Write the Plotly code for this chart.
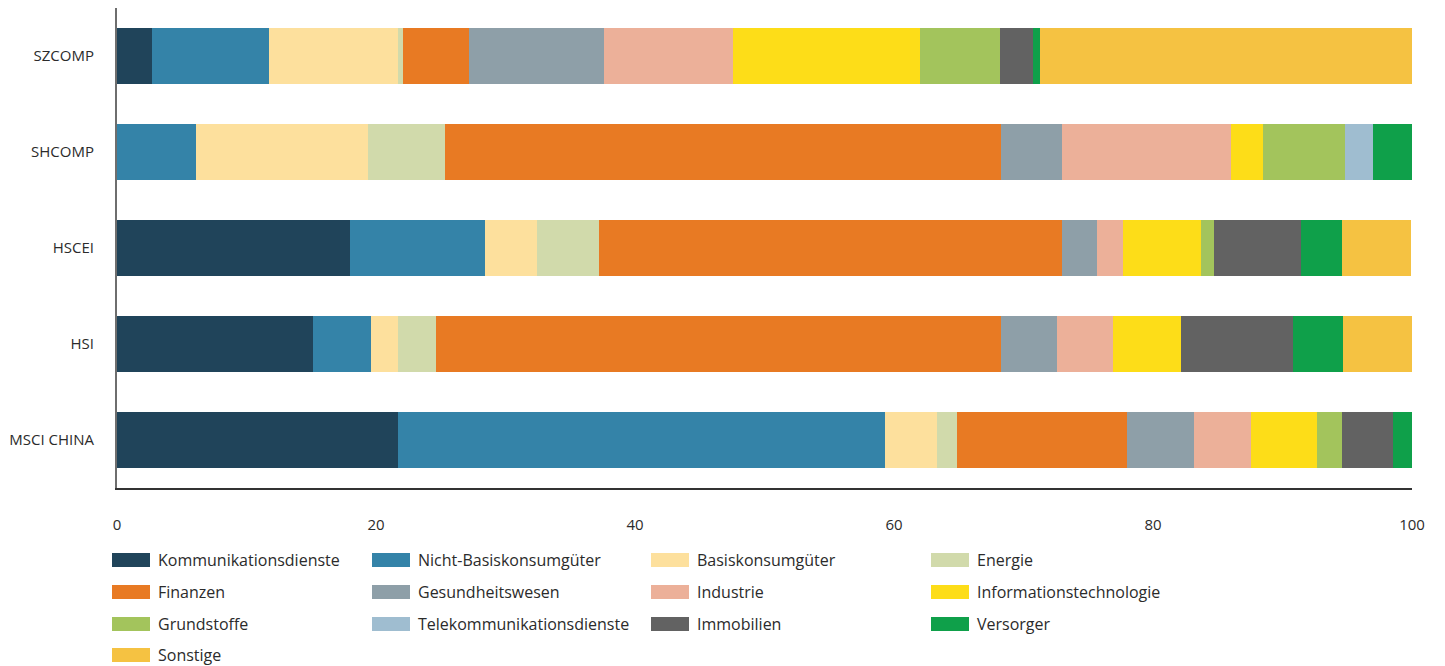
import plotly.graph_objects as go

# ---- data ----
indices = ["MSCI CHINA", "HSI", "HSCEI", "SHCOMP", "SZCOMP"]

sectors = [
    "Kommunikationsdienste", "Nicht-Basiskonsumgüter", "Basiskonsumgüter", "Energie",
    "Finanzen", "Gesundheitswesen", "Industrie", "Informationstechnologie",
    "Grundstoffe", "Telekommunikationsdienste", "Immobilien", "Versorger",
    "Sonstige",
]

# values per sector, order matches `indices`
kommunikationsdienste = [21.7, 15.1, 18.0, 0.0, 2.7]
nicht_basiskonsumgueter = [37.6, 4.5, 10.4, 6.1, 9.0]
basiskonsumgueter = [4.0, 2.1, 4.0, 13.3, 10.0]
energie = [1.6, 2.9, 4.8, 5.9, 0.4]
finanzen = [13.1, 43.7, 35.8, 43.0, 5.1]
gesundheitswesen = [5.2, 4.3, 2.7, 4.7, 10.4]
industrie = [4.4, 4.3, 2.0, 13.0, 10.0]
informationstechnologie = [5.1, 5.3, 6.0, 2.5, 14.4]
grundstoffe = [1.9, 0.0, 1.0, 6.3, 6.2]
telekommunikationsdienste = [0.0, 0.0, 0.0, 2.2, 0.0]
immobilien = [3.9, 8.6, 6.7, 0.0, 2.5]
versorger = [1.7, 3.9, 3.2, 3.1, 0.6]
sonstige = [0.0, 5.4, 5.3, 0.0, 28.8]

series = [
    kommunikationsdienste, nicht_basiskonsumgueter, basiskonsumgueter, energie,
    finanzen, gesundheitswesen, industrie, informationstechnologie,
    grundstoffe, telekommunikationsdienste, immobilien, versorger, sonstige,
]

colors = [
    "#20445A", "#3483A8", "#FDE09D", "#D1DAAB",
    "#E87A23", "#8E9FA8", "#ECB099", "#FDDD18",
    "#A3C45C", "#9FBDD0", "#626262", "#0FA04A",
    "#F5C242",
]

x_ticks = [0, 20, 40, 60, 80, 100]

# ---- figure (page body adds an 8px offset) ----
W, H = 1437, 658
ml, mr, mt, mb = 109, 33, 0, 178
pw, ph = W - ml - mr, H - mt - mb

fig = go.Figure()
for name, vals, col in zip(sectors, series, colors):
    fig.add_trace(go.Bar(
        y=indices, x=vals, name=name, orientation="h",
        marker=dict(color=col, line=dict(width=0)),
        showlegend=False,
    ))

font_family = "Open Sans, Noto Sans, sans-serif"
text_color = "#2b2b2b"

# manual legend (wide swatches), positions in figure pixels
col_x = [104, 364, 643, 923]
row_y = [552, 584, 616, 647]
shapes = []
annotations = []
for i, (name, col) in enumerate(zip(sectors, colors)):
    c, r = i % 4, i // 4
    x0 = col_x[c]
    yc = row_y[r]
    shapes.append(dict(
        type="rect", xref="paper", yref="paper",
        x0=(x0 - ml) / pw, x1=(x0 + 38 - ml) / pw,
        y0=(H - mb - (yc + 7)) / ph, y1=(H - mb - (yc - 7)) / ph,
        fillcolor=col, line=dict(width=0), layer="above",
    ))
    annotations.append(dict(
        xref="paper", yref="paper",
        x=(x0 + 44 - ml) / pw, y=(H - mb - yc) / ph,
        xanchor="left", yanchor="middle", showarrow=False,
        text=name, font=dict(size=16, color=text_color, family=font_family),
    ))

fig.update_layout(
    barmode="stack",
    bargap=0.41,
    width=W, height=H,
    margin=dict(l=ml, r=mr, t=mt, b=mb, pad=0),
    plot_bgcolor="white", paper_bgcolor="white",
    font=dict(family=font_family, size=15, color=text_color),
    shapes=shapes,
    annotations=annotations,
    xaxis=dict(
        range=[0, 100], tickvals=x_ticks, showgrid=False, zeroline=False,
        showline=True, linecolor="#333333", linewidth=2,
        ticks="outside", ticklen=22, tickcolor="rgba(0,0,0,0)",
        tickfont=dict(size=15, color=text_color),
        fixedrange=True,
    ),
    yaxis=dict(
        categoryorder="array", categoryarray=indices,
        range=[-0.5, 4.5], showgrid=False, zeroline=False,
        showline=True, linecolor="#6e6e6e", linewidth=2,
        ticks="outside", ticklen=18, tickcolor="rgba(0,0,0,0)",
        tickfont=dict(size=15, color=text_color),
        fixedrange=True,
    ),
)

fig.write_html("out.html")
